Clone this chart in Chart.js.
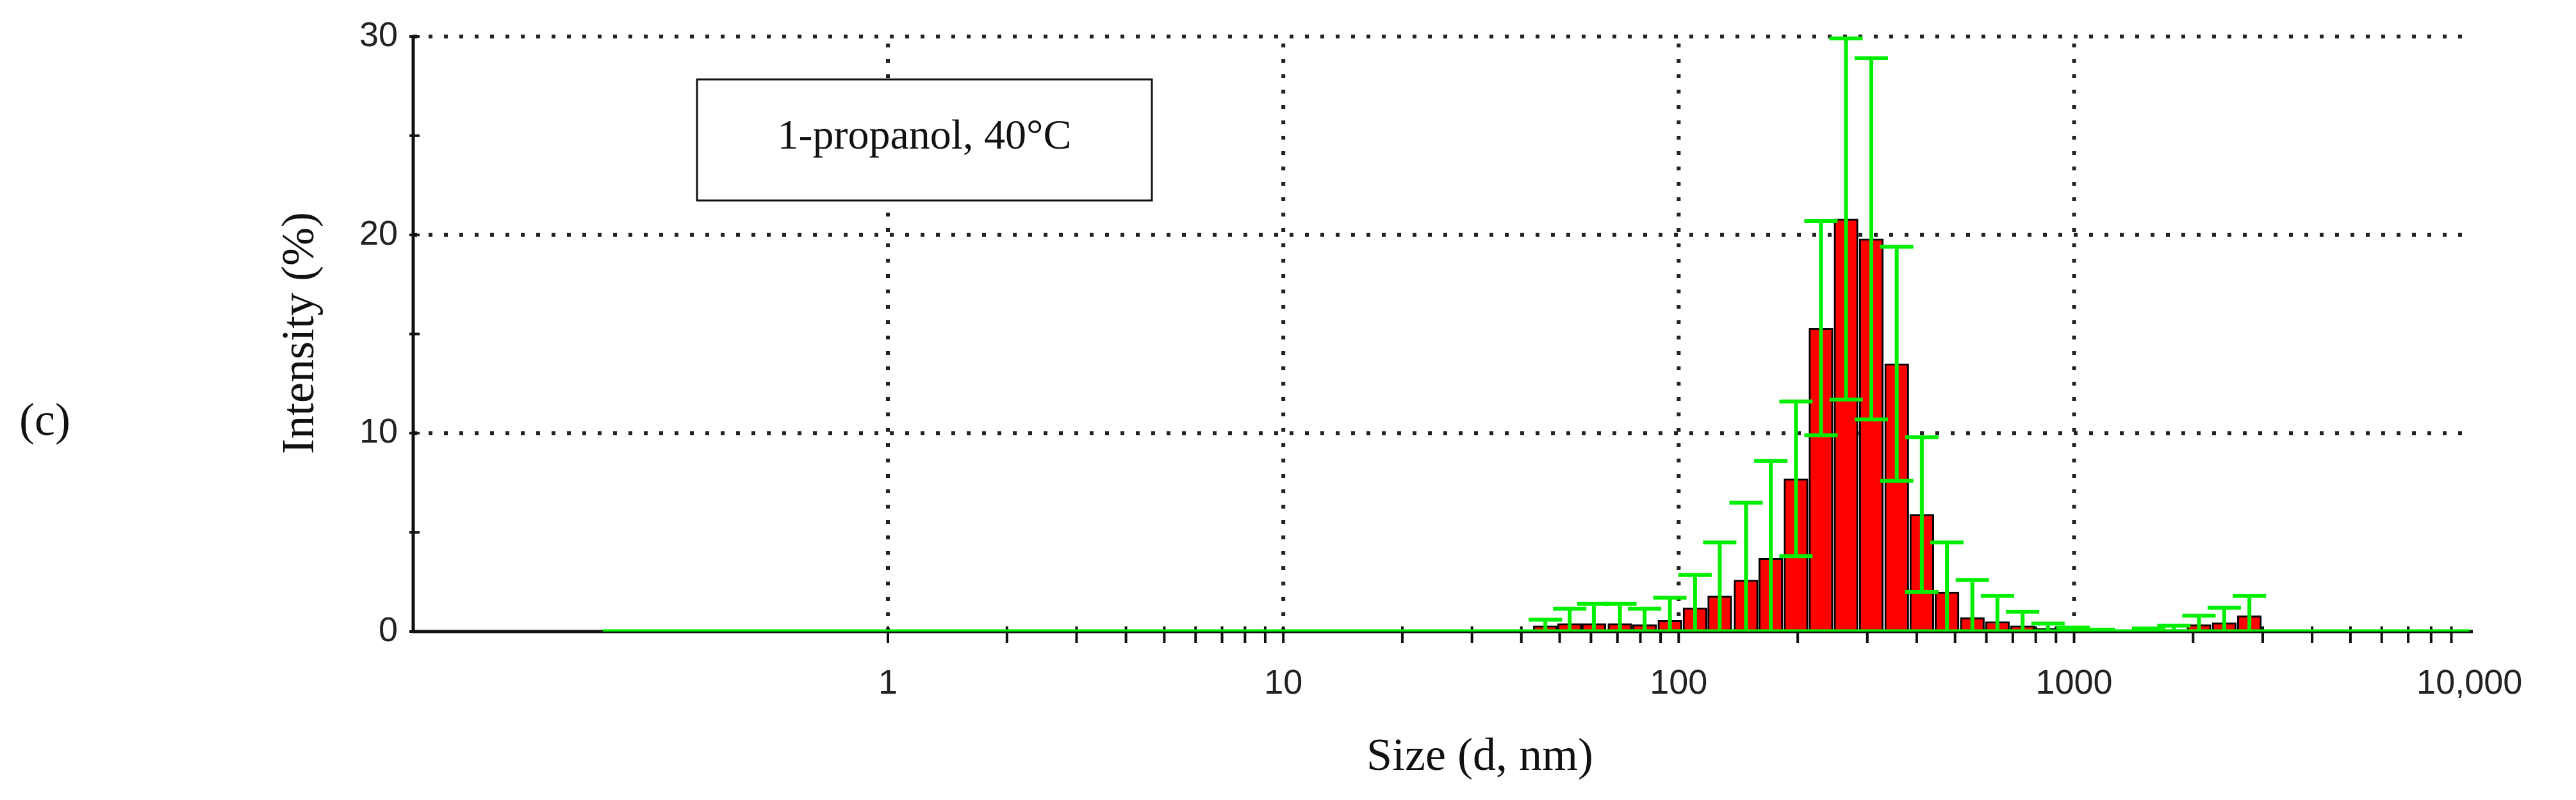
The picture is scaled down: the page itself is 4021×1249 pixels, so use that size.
<!DOCTYPE html>
<html><head><meta charset="utf-8">
<script src="https://cdn.jsdelivr.net/npm/chart.js@4.4.1/dist/chart.umd.min.js"></script>
<style>html,body{margin:0;padding:0;background:#fff}canvas{display:block}</style>
</head><body>
<canvas id="c" width="4021" height="1249" style="width:4021px;height:1249px"></canvas>
<script>
const sizes = [46,53,61,71,82,95,110,127,148,171,198,229,265,307,356,412,477,553,640,741,859,994,1151,1333,1544,1788,2070,2398,2776,3215];
const intensity = [0.3,0.4,0.4,0.4,0.35,0.57,1.2,1.8,2.6,3.7,7.7,15.3,20.8,19.8,13.5,5.9,2.0,0.7,0.5,0.3,0.15,0.05,0.02,0,0.05,0.1,0.35,0.45,0.8,0];
const upperErr = [0.6,1.15,1.4,1.4,1.15,1.7,2.85,4.5,6.5,8.6,11.6,20.7,29.9,28.9,19.4,9.8,4.5,2.6,1.8,1.0,0.4,0.2,0.1,0,0.15,0.3,0.8,1.2,1.8,0];
const xTicks = [1,10,100,1000,10000];
const yTicks = [0,10,20,30];
const baseLine = [0.19,10000];

const extras = {
  id:'extras',
  beforeDatasetsDraw(ch){
    const c=ch.ctx,a=ch.chartArea,x=ch.scales.x,y=ch.scales.y;
    c.save();
    c.strokeStyle='#222';c.lineWidth=6;c.setLineDash([6,18]);c.lineCap='butt';
    xTicks.slice(0,4).forEach(v=>{const px=x.getPixelForValue(v);c.beginPath();c.moveTo(px,a.bottom);c.lineTo(px,a.top);c.stroke();});
    yTicks.slice(1).forEach(v=>{const py=y.getPixelForValue(v);c.beginPath();c.moveTo(a.left,py);c.lineTo(a.right,py);c.stroke();});
    c.setLineDash([]);
    c.lineWidth=5;c.strokeStyle='#111';
    c.beginPath();c.moveTo(a.left,a.top);c.lineTo(a.left,a.bottom);c.lineTo(a.right,a.bottom);c.stroke();
    c.lineWidth=4;
    for(let d=1;d<=1000;d*=10){for(let k=1;k<=9;k++){const v=d*k;if(v>x.max)continue;const px=x.getPixelForValue(v);c.beginPath();c.moveTo(px,a.bottom-8);c.lineTo(px,a.bottom+18);c.stroke();}}
    [0,5,10,15,20,25,30].forEach(v=>{const py=y.getPixelForValue(v);c.beginPath();c.moveTo(a.left-6,py);c.lineTo(a.left+10,py);c.stroke();});
    c.restore();
  },
  afterDatasetsDraw(ch){
    const c=ch.ctx,x=ch.scales.x,y=ch.scales.y;
    c.save();c.strokeStyle='#00ee00';c.lineWidth=6;
    sizes.forEach((s,i)=>{
      const v=intensity[i],u=upperErr[i];if(u<=0)return;
      const lo=Math.max(0,2*v-u);
      const px=x.getPixelForValue(s),pu=y.getPixelForValue(u),pl=y.getPixelForValue(lo);
      const hw=26;
      c.beginPath();c.moveTo(px,pl);c.lineTo(px,pu);
      c.moveTo(px-hw,pu);c.lineTo(px+hw,pu);
      if(lo>0){c.moveTo(px-hw,pl);c.lineTo(px+hw,pl);}
      c.stroke();
    });
    c.restore();
  },
  afterDraw(ch){
    const c=ch.ctx;c.save();c.fillStyle='#111';
    c.font='72px "Liberation Serif", "DejaVu Serif", serif';
    c.textAlign='center';c.textBaseline='middle';
    c.fillText('Size (d, nm)',2310,1183);
    c.fillText('(c)',70,660);
    c.save();c.translate(470,520);c.rotate(-Math.PI/2);c.fillText('Intensity (%)',0,0);c.restore();
    c.fillStyle='#fff';c.fillRect(1088,124,710,189);
    c.strokeStyle='#111';c.lineWidth=3;c.strokeRect(1088,124,710,189);
    c.fillStyle='#111';c.font='66px "Liberation Serif", serif';
    c.fillText('1-propanol, 40°C',1443,215);
    c.restore();
  }
};

new Chart(document.getElementById('c'),{
  data:{datasets:[
    {type:'line',data:baseLine.map(v=>({x:v,y:0})),borderColor:'#00ee00',borderWidth:7,pointRadius:0,order:0},
    {type:'bar',data:sizes.map((s,i)=>({x:s,y:intensity[i]})),backgroundColor:'#ff0000',borderColor:'#000',borderWidth:3,barPercentage:1,categoryPercentage:1,borderSkipped:'bottom',order:1}
  ]},
  options:{responsive:false,animation:false,devicePixelRatio:1,
    layout:{padding:{left:0,top:57,right:161,bottom:0}},
    plugins:{legend:{display:false},tooltip:{enabled:false}},
    scales:{
      x:{type:'logarithmic',min:0.063,max:10200,grid:{display:false},border:{display:false},
        afterBuildTicks(s){s.ticks=xTicks.map(v=>({value:v}));},
        afterFit(s){s.height=263;},
        ticks:{autoSkip:false,maxRotation:0,padding:42,color:'#222',font:{size:54,family:'"Liberation Sans Narrow","Liberation Sans", sans-serif'},callback:v=>v===10000?'10,000':String(v)}},
      y:{type:'linear',min:0,max:30,grid:{display:false},border:{display:false},
        afterBuildTicks(s){s.ticks=yTicks.map(v=>({value:v}));},
        afterFit(s){s.width=645;},
        ticks:{padding:16,color:'#222',font:{size:54,family:'"Liberation Sans Narrow","Liberation Sans", sans-serif'}}}
    }
  },
  plugins:[extras]
});
</script></body></html>
